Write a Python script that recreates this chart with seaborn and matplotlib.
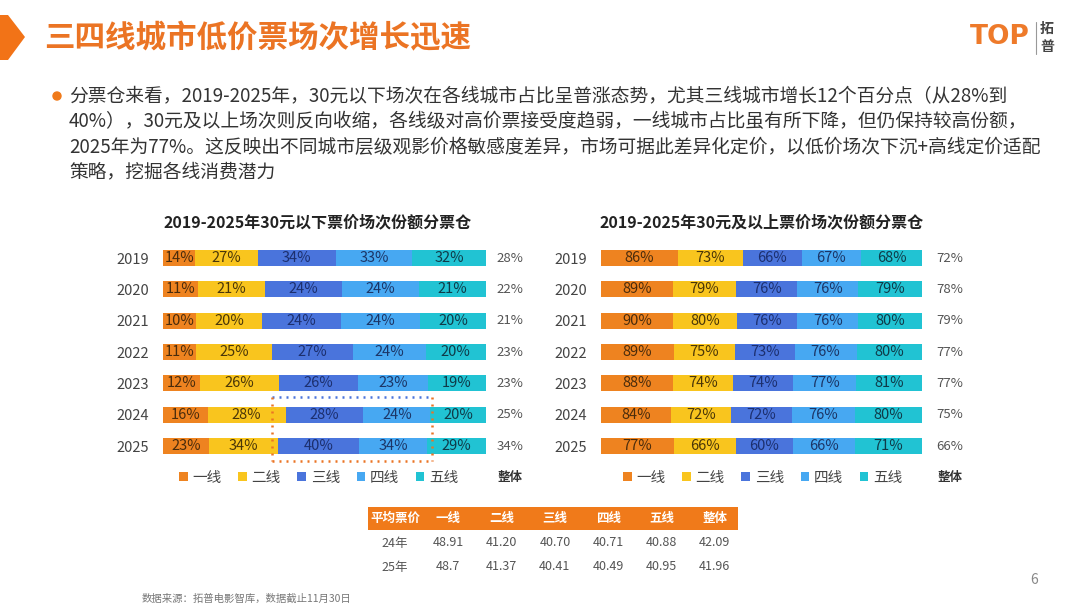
import numpy as np
import pandas as pd
import seaborn as sns
import matplotlib.pyplot as plt
from matplotlib.patches import Patch, Polygon, Rectangle, Ellipse
from matplotlib.lines import Line2D

# data
years = ['2019', '2020', '2021', '2022', '2023', '2024', '2025']
tiers = ['一线', '二线', '三线', '四线', '五线']
low_price = [  # share of sessions under 30 yuan, per tier
    [14, 27, 34, 33, 32],
    [11, 21, 24, 24, 21],
    [10, 20, 24, 24, 20],
    [11, 25, 27, 24, 20],
    [12, 26, 26, 23, 19],
    [16, 28, 28, 24, 20],
    [23, 34, 40, 34, 29],
]
low_total = [28, 22, 21, 23, 23, 25, 34]
high_price = [  # share of sessions 30 yuan and above, per tier
    [86, 73, 66, 67, 68],
    [89, 79, 76, 76, 79],
    [90, 80, 76, 76, 80],
    [89, 75, 73, 76, 80],
    [88, 74, 74, 77, 81],
    [84, 72, 72, 76, 80],
    [77, 66, 60, 66, 71],
]
high_total = [72, 78, 79, 77, 77, 75, 66]

table_cols = ['平均票价', '一线', '二线', '三线', '四线', '五线', '整体']
table_rows = ['24年', '25年']
avg_price_24 = ['48.91', '41.20', '40.70', '40.71', '40.88', '42.09']
avg_price_25 = ['48.7', '41.37', '40.41', '40.49', '40.95', '41.96']

colors = ['#EE8320', '#F9C51E', '#4A74DC', '#47A8F2', '#21C3D3']
label_colors = ['#4a2c0c', '#4a3608', '#1c2f6e', '#1c3566', '#0f3a48']
ORANGE = '#EB7424'

W, H = 1080, 608


def fx(x):
    return x / W


def fy(y):
    return 1 - y / H


sns.set_theme(style='white')
plt.rcParams['font.family'] = ['Noto Sans CJK SC', 'DejaVu Sans']

fig = plt.figure(figsize=(10.8, 6.08), dpi=100)
fig.patch.set_facecolor('white')


def stacked_chart(rect, values, totals, title, total_x, legend_x):
    ax = fig.add_axes(rect)
    vals = np.array(values, dtype=float)
    share = vals / vals.sum(axis=1, keepdims=True) * 100
    cum = share.cumsum(axis=1)
    df = pd.DataFrame(cum, columns=tiers)
    df['year'] = years
    # draw cumulative bars from the widest down so each tier sits on top
    for i in reversed(range(len(tiers))):
        sns.barplot(data=df, x=tiers[i], y='year', order=years, orient='h',
                    color=colors[i], saturation=1, width=0.51, linewidth=0,
                    ax=ax)
    for r in range(len(years)):
        left = 0
        for i in range(len(tiers)):
            mid = left + share[r, i] / 2
            ax.text(mid, r, '{}%'.format(values[r][i]), ha='center',
                    va='center', fontsize=10.5, color=label_colors[i])
            left += share[r, i]
        ax.text(total_x, r, '{}%'.format(totals[r]), ha='center', va='center',
                fontsize=9.5, color='#555555',
                transform=ax.get_yaxis_transform())
    ax.set_xlim(0, 100)
    ax.set_ylim(6.5, -0.5)
    ax.set_xlabel('')
    ax.set_ylabel('')
    ax.set_xticks([])
    ax.tick_params(axis='y', length=0, pad=10, labelsize=10.5,
                   labelcolor='#444444')
    sns.despine(ax=ax, left=True, bottom=True)
    ax.set_title(title, fontsize=11.5, fontweight='bold', color='#222222',
                 pad=11)
    handles = [Patch(facecolor=c, edgecolor='none', label=t)
               for c, t in zip(colors, tiers)]
    ax.legend(handles=handles, ncol=5, loc='center left', frameon=False,
              bbox_to_anchor=(legend_x, -0.074), borderaxespad=0, borderpad=0,
              fontsize=10.5, labelcolor='#444444', handlelength=0.6,
              handleheight=0.6, handletextpad=0.3, columnspacing=1.15)
    ax.text(total_x, -0.074, '整体', transform=ax.transAxes, ha='center',
            va='center', fontsize=9, fontweight='bold', color='#333333')
    return ax


bar_bottom = 461.7
bar_h = 219.3
ax1 = stacked_chart([fx(163), fy(bar_bottom), 323 / W, bar_h / H],
                    low_price, low_total,
                    '2019-2025年30元以下票价场次份额分票仓', 1.074, 0.05)
ax2 = stacked_chart([fx(601), fy(bar_bottom), 321 / W, bar_h / H],
                    high_price, high_total,
                    '2019-2025年30元及以上票价场次份额分票仓', 1.087, 0.069)
ax1.title.set_x(0.48)

# dotted highlight box on the left chart
box_l, box_r, box_t, box_b = 272, 432, 397, 461
fig.add_artist(Line2D([fx(box_l), fx(box_r)], [fy(box_t), fy(box_t)],
                      transform=fig.transFigure, color='#4A74DC', lw=1.8,
                      linestyle=(0, (0.8, 2))))
for xs, ys in [([box_l, box_r], [box_b, box_b]),
               ([box_l, box_l], [box_t, box_b]),
               ([box_r, box_r], [box_t, box_b])]:
    fig.add_artist(Line2D([fx(x) for x in xs], [fy(y) for y in ys],
                          transform=fig.transFigure, color=ORANGE, lw=1.8,
                          linestyle=(0, (0.8, 2))))

# slide header
fig.add_artist(Polygon([(fx(0), fy(15)), (fx(8), fy(15)), (fx(25), fy(37)),
                        (fx(8), fy(60)), (fx(0), fy(60))],
                       closed=True, transform=fig.transFigure,
                       facecolor='#F27317', edgecolor='none'))
fig.text(fx(44), fy(38), '三四线城市低价票场次增长迅速', fontsize=22,
         fontweight='bold', color=ORANGE, va='center', ha='left')

# logo
fig.text(fx(1000), fy(37), 'TOP', fontsize=19, fontweight='bold',
         color='#EE7A2A', ha='center', va='center', family='DejaVu Sans')
fig.add_artist(Line2D([fx(1036), fx(1036)], [fy(22), fy(54)],
                      transform=fig.transFigure, color='#999999', lw=0.8))
fig.text(fx(1047), fy(29), '拓', fontsize=10, fontweight='bold',
         color='#444444', ha='center', va='center')
fig.text(fx(1047), fy(47), '普', fontsize=10, fontweight='bold',
         color='#444444', ha='center', va='center')

# bullet paragraph
lines = [
    '分票仓来看，2019-2025年，30元以下场次在各线城市占比呈普涨态势，尤其三线城市增长12个百分点（从28%到',
    '40%），30元及以上场次则反向收缩，各线级对高价票接受度趋弱，一线城市占比虽有所下降，但仍保持较高份额，',
    '2025年为77%。这反映出不同城市层级观影价格敏感度差异，市场可据此差异化定价，以低价场次下沉+高线定价适配',
    '策略，挖掘各线消费潜力',
]
fig.patches.append(Ellipse((fx(57), fy(96)), 8 / W, 8 / H,
                           transform=fig.transFigure, color='#F07A1A'))
for k, line in enumerate(lines):
    fig.text(fx(69), fy(97 + 25 * k), line, fontsize=13.5, color='#333333',
             ha='left', va='center')

# average price table
fig.patches.append(Rectangle((fx(368), fy(530)), (738 - 368) / W, 23 / H,
                             transform=fig.transFigure, facecolor='#F07A1A',
                             edgecolor='none'))
col_x = [395 + 53.3 * i for i in range(len(table_cols))]
for x, c in zip(col_x, table_cols):
    fig.text(fx(x), fy(518.5), c, fontsize=9, fontweight='bold',
             color='white', ha='center', va='center')
for y, name, row in [(543, table_rows[0], avg_price_24),
                     (567, table_rows[1], avg_price_25)]:
    fig.text(fx(col_x[0]), fy(y), name, fontsize=9, color='#555555',
             ha='center', va='center')
    for x, v in zip(col_x[1:], row):
        fig.text(fx(x), fy(y), v, fontsize=9, color='#555555',
                 ha='center', va='center')

fig.text(fx(142), fy(599), '数据来源：拓普电影智库，数据截止11月30日',
         fontsize=7.5, color='#777777', ha='left', va='center')
fig.text(fx(1034), fy(580), '6', fontsize=10, color='#888888',
         ha='center', va='center')

fig.savefig('out.png', dpi=100, facecolor='white')
